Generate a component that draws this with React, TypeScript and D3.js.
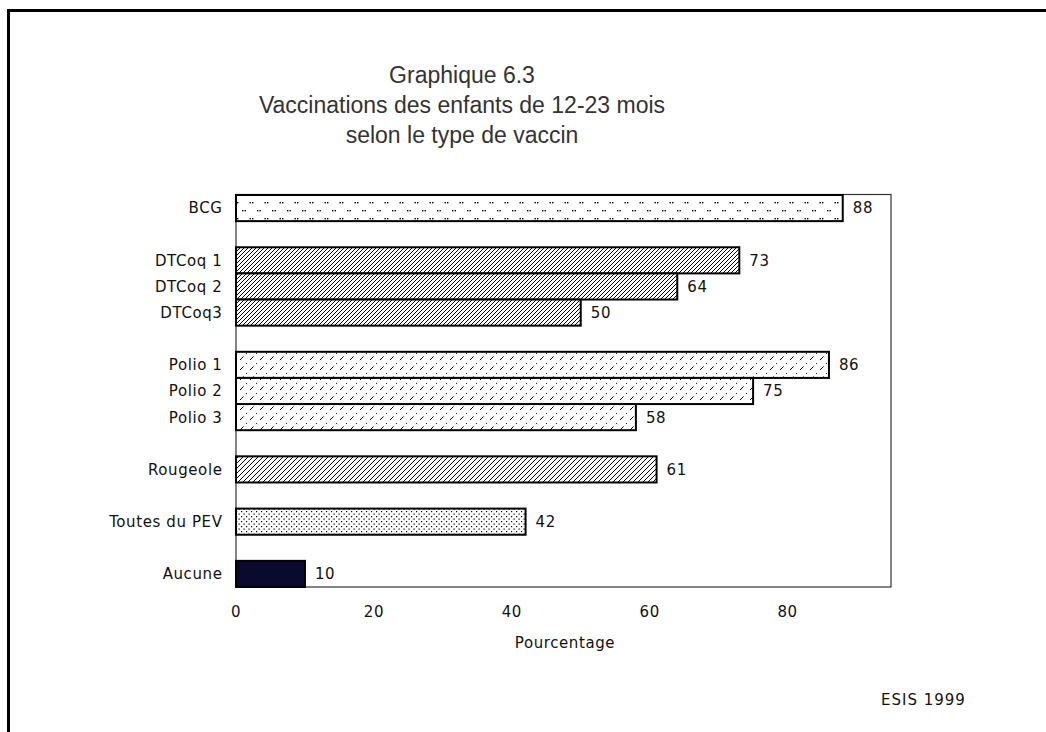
import React from 'react';
import * as d3 from 'd3';

const labels = ["BCG", "DTCoq 1", "DTCoq 2", "DTCoq3", "Polio 1", "Polio 2", "Polio 3", "Rougeole", "Toutes du PEV", "Aucune"];
const values = [88, 73, 64, 50, 86, 75, 58, 61, 42, 10];
const groups = [0, 1, 1, 1, 2, 2, 2, 3, 4, 5];
const fills = ["bcg", "dtcoq", "dtcoq", "dtcoq", "polio", "polio", "polio", "rougeole", "toutes", "aucune"];
const xTicks = [0, 20, 40, 60, 80];
const titleLines = ["Graphique 6.3", "Vaccinations des enfants de 12-23 mois", "selon le type de vaccin"];

const W = 1046;
const H = 732;
const margin = { top: 195, right: 155, bottom: 145, left: 236 };
const titleFont = "'Liberation Sans', Arial, sans-serif";
const font = "'DejaVu Sans', Verdana, sans-serif";

// slots: one per bar, plus an empty slot between groups
const slots: string[] = [];
labels.forEach((l, i) => {
  if (i > 0 && groups[i] !== groups[i - 1]) slots.push("gap" + i);
  slots.push(l);
});

const App = () => {
  const x = d3.scaleLinear().domain([0, 95]).range([margin.left, W - margin.right]);
  const y = d3.scaleBand().domain(slots).range([margin.top, H - margin.bottom]).padding(0);

  return (
    <svg width={W} height={H} style={{ position: 'absolute', left: 0, top: 0, background: '#fff' }}>
      <defs>
        <pattern id="bcg" width="15" height="16" patternUnits="userSpaceOnUse">
          <rect width="15" height="16" fill="#fff" />
          <rect x="2" y="2" width="1.4" height="1.4" fill="#000" />
          <rect x="4.5" y="2" width="1.4" height="1.4" fill="#000" />
          <rect x="9.5" y="10" width="1.4" height="1.4" fill="#000" />
          <rect x="12" y="10" width="1.4" height="1.4" fill="#000" />
        </pattern>
        <pattern id="dtcoq" width="4" height="4" patternUnits="userSpaceOnUse">
          <rect width="4" height="4" fill="#fff" />
          <path d="M-1,1 l2,-2 M0,4 l4,-4 M3,5 l2,-2" stroke="#000" strokeWidth="1" />
        </pattern>
        <pattern id="rougeole" width="5" height="5" patternUnits="userSpaceOnUse">
          <rect width="5" height="5" fill="#fff" />
          <path d="M-1,1 l2,-2 M0,5 l5,-5 M4,6 l2,-2" stroke="#000" strokeWidth="1" />
        </pattern>
        <pattern id="polio" width="10" height="10" patternUnits="userSpaceOnUse">
          <rect width="10" height="10" fill="#fff" />
          <path d="M0,10 L10,0" stroke="#000" strokeWidth="1" strokeDasharray="5 3.5 1.2 4.4" />
        </pattern>
        <pattern id="toutes" width="5" height="5" patternUnits="userSpaceOnUse">
          <rect width="5" height="5" fill="#fff" />
          <rect x="1" y="1" width="1.2" height="1.2" fill="#000" />
          <rect x="3.5" y="3.5" width="1.2" height="1.2" fill="#000" />
        </pattern>
      </defs>

      {/* outer frame */}
      <path d={`M8.5,${H} V10.5 H${W}`} fill="none" stroke="#000" strokeWidth="3" />

      {/* title */}
      {titleLines.map((t, i) => (
        <text key={t} x={462} y={83 + i * 30} textAnchor="middle" fontFamily={titleFont} fontSize={23} fill="#333">{t}</text>
      ))}

      {/* plot frame */}
      <rect x={margin.left} y={margin.top - 0.5} width={x(95) - margin.left} height={H - margin.bottom - margin.top + 0.5}
        fill="none" stroke="#333" strokeWidth="1.2" />

      {/* bars */}
      {labels.map((l, i) => (
        <g key={l}>
          <rect x={x(0)} y={y(l)!} width={x(values[i]) - x(0)} height={y.bandwidth()}
            fill={fills[i] === "aucune" ? "#0a0a2e" : `url(#${fills[i]})`} stroke="#000" strokeWidth="2" />
          <text x={x(values[i]) + 10} y={y(l)! + y.bandwidth() / 2} dy="0.36em" fontFamily={font} fontSize={15} letterSpacing={0.6} fill="#111">{values[i]}</text>
          <text x={222.5} y={y(l)! + y.bandwidth() / 2} dy="0.36em" textAnchor="end" fontFamily={font} fontSize={15} letterSpacing={0.6} fill="#111">{l}</text>
        </g>
      ))}

      {/* x tick labels */}
      {xTicks.map(t => (
        <text key={t} x={x(t)} y={617} textAnchor="middle" fontFamily={font} fontSize={15} letterSpacing={0.6} fill="#111">{t}</text>
      ))}
      <text x={565} y={648} textAnchor="middle" fontFamily={font} fontSize={15} letterSpacing={0.6} fill="#111">Pourcentage</text>
      <text x={881} y={705} fontFamily={font} fontSize={15} letterSpacing={1} fill="#111">ESIS 1999</text>
    </svg>
  );
};

export default App;
